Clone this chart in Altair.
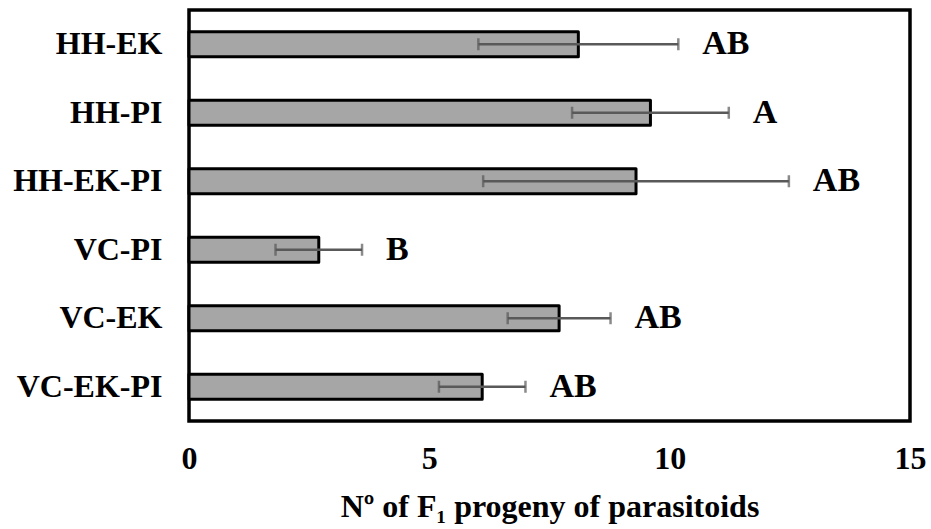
import altair as alt
import pandas as pd

# Treatments, mean F1 progeny, standard error and significance letters
treatments = ["HH-EK", "HH-PI", "HH-EK-PI", "VC-PI", "VC-EK", "VC-EK-PI"]
means = [8.1, 9.6, 9.3, 2.7, 7.7, 6.1]
errors = [2.08, 1.63, 3.18, 0.9, 1.07, 0.9]
letters = ["AB", "A", "AB", "B", "AB", "AB"]
x_ticks = [0, 5, 10, 15]

df = pd.DataFrame({"treatment": treatments, "mean": means, "err": errors, "letter": letters})
df["lo"] = df["mean"] - df["err"]
df["hi"] = df["mean"] + df["err"]

FONT = "Liberation Serif"

y_enc = alt.Y(
    "treatment:N",
    sort=treatments,
    scale=alt.Scale(paddingInner=0.635, paddingOuter=0.3175),
    axis=alt.Axis(
        title=None, ticks=False, domain=False, labelFont=FONT, labelFontSize=32,
        labelFontWeight="bold", labelColor="black", labelPadding=27, labelLimit=300,
    ),
)
x_scale = alt.Scale(domain=[0, 15], nice=False)

bars = alt.Chart(df).mark_bar(
    fill="#a6a6a6", stroke="black", strokeWidth=3, strokeJoin="round"
).encode(
    x=alt.X(
        "mean:Q",
        scale=x_scale,
        axis=alt.Axis(
            values=x_ticks, grid=False, ticks=False, domain=False, labelFlush=False,
            labelFont=FONT, labelFontSize=32, labelFontWeight="bold", labelColor="black",
            labelPadding=22, title="Nº of F₁ progeny of parasitoids",
            titleFont=FONT, titleFontSize=32, titleFontWeight="bold", titleColor="black",
            titlePadding=17,
        ),
    ),
    y=y_enc,
)

whisker = alt.Chart(df).mark_rule(color="#595959", strokeWidth=2.5).encode(
    x=alt.X("lo:Q", scale=x_scale), x2="hi:Q", y=y_enc
)
cap_lo = alt.Chart(df).mark_tick(color="#595959", thickness=2.5, size=12, orient="vertical").encode(
    x=alt.X("lo:Q", scale=x_scale), y=y_enc
)
cap_hi = alt.Chart(df).mark_tick(color="#595959", thickness=2.5, size=12, orient="vertical").encode(
    x=alt.X("hi:Q", scale=x_scale), y=y_enc
)

labels = alt.Chart(df).mark_text(
    align="left", baseline="middle", dx=24, font=FONT, fontSize=34,
    fontWeight="bold", color="black",
).encode(x=alt.X("hi:Q", scale=x_scale), y=y_enc, text="letter:N")

chart = (
    alt.layer(bars, whisker, cap_lo, cap_hi, labels)
    .properties(
        width=721, height=411,
        autosize=alt.AutoSizeParams(type="none"),
        padding={"left": 189, "top": 10, "right": 21, "bottom": 108},
        background="white",
    )
    .configure_view(stroke="black", strokeWidth=3.5)
)

chart.save("out.html", embed_options={"renderer": "svg", "actions": False})
